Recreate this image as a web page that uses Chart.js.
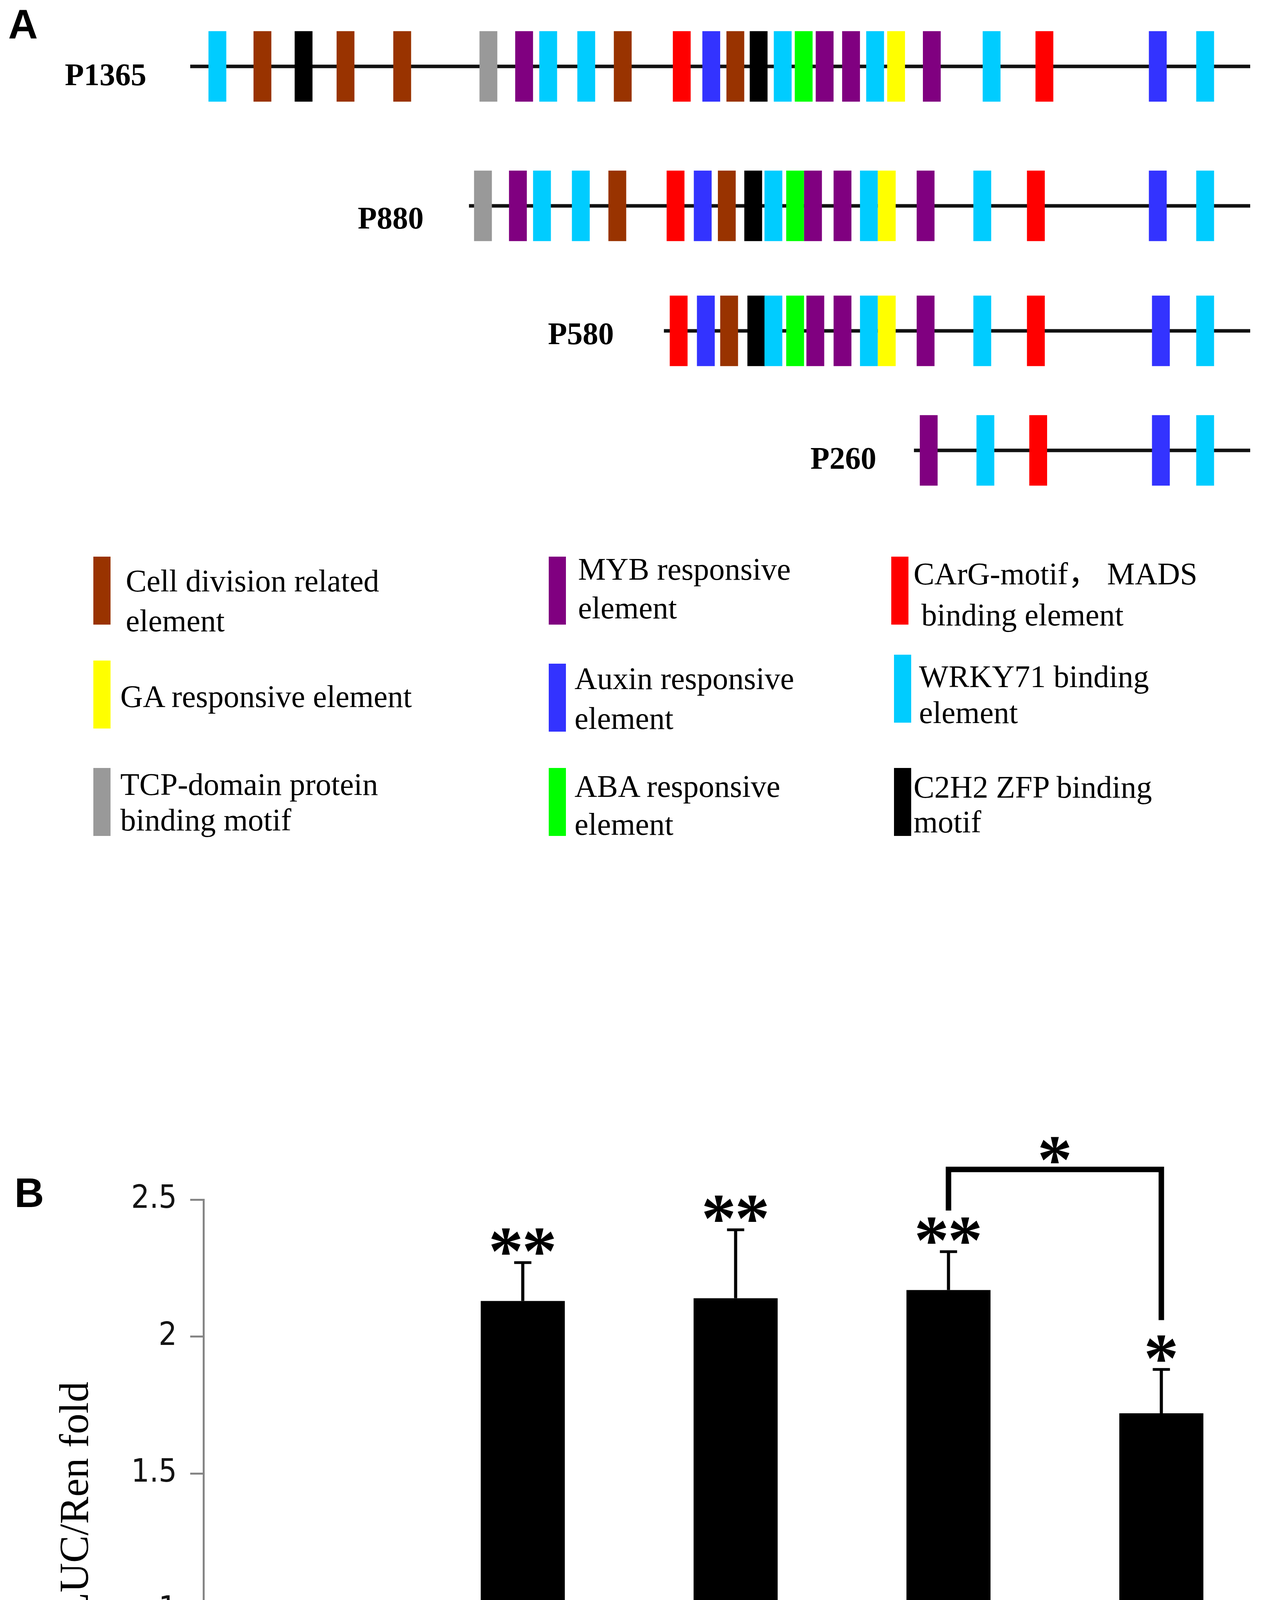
<!DOCTYPE html>
<html>
<head>
<meta charset="utf-8">
<script src="https://cdn.jsdelivr.net/npm/chart.js@4.4.1/dist/chart.umd.min.js"></script>
<style>
  html, body { margin: 0; padding: 0; background: #fff; }
  #page { position: relative; width: 3285px; height: 4990px; overflow: hidden; background: #fff; }
  #page canvas { position: absolute; left: 0; }
  .t { position: absolute; white-space: nowrap; color: #000; line-height: 1; transform: translateY(-50%); }
  .panel { font-family: "Liberation Sans", Arial, sans-serif; font-weight: bold; font-size: 105px; }
  .rowlab { font-family: "Liberation Serif", "Times New Roman", serif; font-weight: bold; font-size: 80px; }
  .leg { font-family: "Liberation Serif", "Times New Roman", "Noto Sans CJK SC", serif; font-size: 80px; }
  .sw { position: absolute; width: 44px; height: 174px; }
  #ytitle { position: absolute; white-space: nowrap; font-family: "Liberation Serif", "Times New Roman", serif;
            font-size: 105px; line-height: 1; color: #000; transform: translate(-50%, -50%) rotate(-90deg); }
</style>
</head>
<body>
<div id="page"></div>
<script>
// ---------------- DATA ----------------
// Panel A: promoter deletion constructs (positions in bp upstream of TSS, read from the schematic)
const PROMOTERS = ['P1365', 'P880', 'P580', 'P260'];
const PROMOTER_START = [-1365, -1006, -755, -433];

const P1365_POS = [-1330, -1272, -1219, -1165, -1092, -981, -935, -904, -855, -808, -732, -694, -663, -633, -602, -575, -548, -514, -483, -456, -410, -333, -265, -119, -58];
const P1365_TYPE = ['WRKY', 'CDR', 'C2H2', 'CDR', 'CDR', 'TCP', 'MYB', 'WRKY', 'WRKY', 'CDR', 'CArG', 'AUX', 'CDR', 'C2H2', 'WRKY', 'ABA', 'MYB', 'MYB', 'WRKY', 'GA', 'MYB', 'WRKY', 'CArG', 'AUX', 'WRKY'];

const P880_POS = [-988, -943, -912, -862, -815, -740, -705, -674, -640, -614, -586, -563, -525, -491, -468, -418, -345, -276, -119, -58];
const P880_TYPE = ['TCP', 'MYB', 'WRKY', 'WRKY', 'CDR', 'CArG', 'AUX', 'CDR', 'C2H2', 'WRKY', 'ABA', 'MYB', 'MYB', 'WRKY', 'GA', 'MYB', 'WRKY', 'CArG', 'AUX', 'WRKY'];

const P580_POS = [-736, -701, -671, -636, -614, -586, -560, -525, -491, -468, -418, -345, -276, -115, -58];
const P580_TYPE = ['CArG', 'AUX', 'CDR', 'C2H2', 'WRKY', 'ABA', 'MYB', 'MYB', 'WRKY', 'GA', 'MYB', 'WRKY', 'CArG', 'AUX', 'WRKY'];

const P260_POS = [-414, -341, -273, -115, -58];
const P260_TYPE = ['MYB', 'WRKY', 'CArG', 'AUX', 'WRKY'];

const ELEMENT_TYPES = ['CDR', 'GA', 'TCP', 'MYB', 'AUX', 'ABA', 'CArG', 'WRKY', 'C2H2'];
const ELEMENT_LABELS = [
  ['Cell division related', 'element'],
  ['GA responsive element'],
  ['TCP-domain protein', 'binding motif'],
  ['MYB responsive', 'element'],
  ['Auxin responsive', 'element'],
  ['ABA responsive', 'element'],
  ['CArG-motif\uFF0C MADS', ' binding element'],
  ['WRKY71 binding', 'element'],
  ['C2H2 ZFP binding', 'motif']
];

// Panel B: dual luciferase assay
const CATEGORIES = ['Control', 'P1365', 'P880', 'P580', 'P260'];
const LUC_MEAN = [0.99, 2.13, 2.14, 2.17, 1.72];
const LUC_ERR = [0.01, 0.14, 0.25, 0.14, 0.16];
const SIG_MARK = ['', '**', '**', '**', '*'];
const Y_TICKS = [0, 0.5, 1, 1.5, 2, 2.5];
const BRACKET_PAIR = ['P580', 'P260'];
const BRACKET_LEVELS = [2.46, 2.61, 2.06];   // left foot, top, right foot
const BRACKET_MARK = '*';

// ---------------- STYLE / LAYOUT ----------------
const COLORS = {
  CDR: '#993300', GA: '#FFFF00', TCP: '#999999', MYB: '#800080', AUX: '#3333FF',
  ABA: '#00FF00', CArG: '#FF0000', WRKY: '#00CCFF', C2H2: '#000000'
};
const W = 3285;
const page = document.getElementById('page');

function addText(cls, txt, left, top) {
  const d = document.createElement('div');
  d.className = 't ' + cls;
  d.textContent = txt;
  d.style.left = left + 'px';
  d.style.top = top + 'px';
  page.appendChild(d);
  return d;
}
function addCanvas(top, height) {
  const c = document.createElement('canvas');
  c.width = W; c.height = height;
  c.style.top = top + 'px';
  c.style.width = W + 'px'; c.style.height = height + 'px';
  page.appendChild(c);
  return c;
}

addText('panel', 'A', 21, 62);
addText('panel', 'B', 37, 3053);

// ---------- Panel A rows ----------
const ROW_POS = [P1365_POS, P880_POS, P580_POS, P260_POS];
const ROW_TYPE = [P1365_TYPE, P880_TYPE, P580_TYPE, P260_TYPE];
const ROW_LINE_Y = [170, 527, 847, 1153];
const ROW_LABEL_XY = [[166, 191], [916, 558], [1403, 854], [2075, 1173]];
const BP_PER_PX = 1365 / 2714;
const X_MIN = -3201 * BP_PER_PX, X_MAX = (W - 3201) * BP_PER_PX;
const BOX = 0.9;

PROMOTERS.forEach((name, r) => {
  const cv = addCanvas(ROW_LINE_Y[r] - 120, 240);
  new Chart(cv, {
    type: 'bar',
    data: {
      datasets: [
        {
          type: 'line',
          data: [{ x: PROMOTER_START[r], y: 0 }, { x: 0, y: 0 }],
          borderColor: '#111', borderWidth: 9, pointRadius: 0, order: 2
        },
        {
          type: 'bar',
          data: ROW_POS[r].map(p => ({ x: p, y: [-BOX, BOX] })),
          backgroundColor: ROW_TYPE[r].map(t => COLORS[t]),
          barThickness: 45, borderWidth: 0, order: 1
        }
      ]
    },
    options: {
      responsive: false, animation: false, devicePixelRatio: 1,
      layout: { padding: 0 },
      plugins: { legend: { display: false }, tooltip: { enabled: false } },
      scales: {
        x: { type: 'linear', min: X_MIN, max: X_MAX, display: false, offset: false },
        y: { type: 'linear', min: -1.2, max: 1.2, display: false }
      }
    }
  });
  addText('rowlab', name, ROW_LABEL_XY[r][0], ROW_LABEL_XY[r][1]);
});

// ---------- Legend ----------
const LEG_LAYOUT = [
  { sx: 239, sy: 1425, tx: [322, 322], ty: [1487, 1589] },
  { sx: 239, sy: 1691, tx: [308], ty: [1783] },
  { sx: 239, sy: 1966, tx: [308, 308], ty: [2008, 2099] },
  { sx: 1405, sy: 1425, tx: [1480, 1480], ty: [1457, 1556] },
  { sx: 1405, sy: 1699, tx: [1471, 1471], ty: [1737, 1839] },
  { sx: 1405, sy: 1966, tx: [1471, 1471], ty: [2013, 2110] },
  { sx: 2282, sy: 1425, tx: [2339, 2339], ty: [1469, 1574] },
  { sx: 2289, sy: 1676, tx: [2353, 2353], ty: [1732, 1824] },
  { sx: 2289, sy: 1966, tx: [2339, 2339], ty: [2015, 2104] }
];
ELEMENT_TYPES.forEach((t, i) => {
  const L = LEG_LAYOUT[i];
  const s = document.createElement('div');
  s.className = 'sw';
  s.style.left = L.sx + 'px'; s.style.top = L.sy + 'px';
  s.style.background = COLORS[t];
  page.appendChild(s);
  ELEMENT_LABELS[i].forEach((line, k) => {
    const d = addText('leg', line, L.tx[k], L.ty[k]);
    d.style.whiteSpace = 'pre';
  });
});

// ---------- Panel B ----------
const yt = document.createElement('div');
yt.id = 'ytitle';
yt.textContent = 'Relative LUC/Ren fold';
yt.style.left = '189px'; yt.style.top = '4027px';
page.appendChild(yt);

const B_TOP = 2900;
const cvB = addCanvas(B_TOP, 4990 - B_TOP);

function drawMarks(ctx, marks, cx, bottomY) {
  if (!marks) return;
  ctx.save();
  ctx.font = 'bold 100px "Liberation Serif"';
  let m = ctx.measureText('*');
  const h100 = m.actualBoundingBoxAscent + m.actualBoundingBoxDescent;
  const size = 100 * 68 / h100;
  ctx.font = 'bold ' + size + 'px "Liberation Serif"';
  m = ctx.measureText('*');
  ctx.textBaseline = 'alphabetic';
  ctx.textAlign = 'left';
  ctx.fillStyle = '#000';
  const n = marks.length, gap = 86;
  for (let k = 0; k < n; k++) {
    const c = cx + (k - (n - 1) / 2) * gap;
    const gx = c - (m.actualBoundingBoxRight - m.actualBoundingBoxLeft) / 2;
    ctx.fillText('*', gx, bottomY - m.actualBoundingBoxDescent);
  }
  ctx.restore();
}

const overlay = {
  id: 'overlay',
  afterDatasetsDraw(chart) {
    const { ctx } = chart;
    const xs = chart.scales.x, ys = chart.scales.y;
    ctx.save();
    ctx.strokeStyle = '#000';
    LUC_MEAN.forEach((v, i) => {
      const px = xs.getPixelForValue(i);
      const y0 = ys.getPixelForValue(v);
      const y1 = ys.getPixelForValue(v + LUC_ERR[i]);
      ctx.lineWidth = 8;
      ctx.beginPath(); ctx.moveTo(px, y0); ctx.lineTo(px, y1); ctx.stroke();
      ctx.lineWidth = 7;
      ctx.beginPath(); ctx.moveTo(px - 22, y1); ctx.lineTo(px + 22, y1); ctx.stroke();
      drawMarks(ctx, SIG_MARK[i], px, y1 - 20);
    });
    const xa = xs.getPixelForValue(CATEGORIES.indexOf(BRACKET_PAIR[0]));
    const xb = xs.getPixelForValue(CATEGORIES.indexOf(BRACKET_PAIR[1]));
    const yTop = ys.getPixelForValue(BRACKET_LEVELS[1]);
    drawMarks(ctx, BRACKET_MARK, (xa + xb) / 2, yTop - 16);
    ctx.restore();
  }
};

new Chart(cvB, {
  type: 'bar',
  data: {
    labels: CATEGORIES,
    datasets: [
      {
        type: 'bar',
        data: LUC_MEAN,
        backgroundColor: '#000',
        borderWidth: 0,
        barPercentage: 0.395,
        categoryPercentage: 1.0,
        order: 2
      },
      {
        type: 'line',
        data: [
          { x: BRACKET_PAIR[0], y: BRACKET_LEVELS[0] },
          { x: BRACKET_PAIR[0], y: BRACKET_LEVELS[1] },
          { x: BRACKET_PAIR[1], y: BRACKET_LEVELS[1] },
          { x: BRACKET_PAIR[1], y: BRACKET_LEVELS[2] }
        ],
        borderColor: '#000', borderWidth: 14, pointRadius: 0,
        borderJoinStyle: 'miter', borderCapStyle: 'butt',
        clip: false, tension: 0, order: 1
      }
    ]
  },
  options: {
    responsive: false, animation: false, devicePixelRatio: 1,
    layout: { padding: { top: 171, right: 39, bottom: 0, left: 0 } },
    plugins: { legend: { display: false }, tooltip: { enabled: false } },
    scales: {
      x: {
        type: 'category',
        offset: true,
        afterFit: s => { s.height = 166; },
        grid: { offset: true, drawOnChartArea: false, drawTicks: true, tickLength: 43, color: '#858585', lineWidth: 5 },
        border: { display: true, color: '#858585', width: 5 },
        ticks: {
          color: '#000', padding: -16,
          font: { family: '"Liberation Serif", "Times New Roman", serif', weight: 'bold', size: 102, lineHeight: 1 }
        }
      },
      y: {
        type: 'linear', min: 0, max: 2.5,
        afterFit: s => { s.width = 521; },
        afterBuildTicks: s => { s.ticks = Y_TICKS.map(v => ({ value: v })); },
        grid: { drawOnChartArea: false, drawTicks: true, tickLength: 34, color: '#858585', lineWidth: 5 },
        border: { display: true, color: '#858585', width: 5 },
        ticks: {
          color: '#141414', padding: 34,
          callback: v => String(v),
          font: { family: '"DejaVu Sans Condensed", "DejaVu Sans", Verdana, sans-serif', size: 82 }
        }
      }
    }
  },
  plugins: [overlay]
});
</script>
</body>
</html>
